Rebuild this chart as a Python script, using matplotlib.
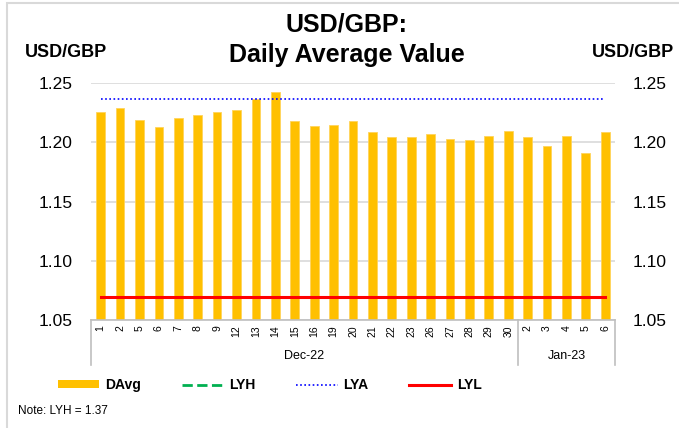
import matplotlib.pyplot as plt
import matplotlib.transforms as mtransforms
from matplotlib.lines import Line2D
from matplotlib.patches import Patch, Rectangle
import numpy as np

# Data
days = ["1", "2", "5", "6", "7", "8", "9", "12", "13", "14", "15", "16", "19", "20",
        "21", "22", "23", "26", "27", "28", "29", "30",
        "2", "3", "4", "5", "6"]
months = ["Dec-22", "Jan-23"]
month_counts = [22, 5]
davg = [1.2253, 1.2290, 1.2188, 1.2127, 1.2203, 1.2231, 1.2258, 1.2273, 1.2363, 1.2422,
        1.2177, 1.2138, 1.2144, 1.2182, 1.2084, 1.2045, 1.2047, 1.2068, 1.2028, 1.2019,
        1.2053, 1.2095, 1.2045, 1.1966, 1.2053, 1.1912, 1.2090]
lyh = 1.37
lya = 1.2363
lyl = 1.0693
yticks = [1.05, 1.10, 1.15, 1.20, 1.25]

plt.rcParams["font.family"] = ["Liberation Sans", "DejaVu Sans"]

fig = plt.figure(figsize=(6.79, 4.28), dpi=100)
ax = fig.add_axes([0.134, 0.2523, 0.7717, 0.5537])

x = np.arange(len(days))
n = len(days)

ax.bar(x, davg, width=0.45, color="#FFC000", edgecolor="#FFD45A", linewidth=0.6, zorder=2)
ax.plot(x, [lyh] * n, color="#00B050", ls="--", lw=2, zorder=3)
ax.plot(x, [lya] * n, color="#0000FF", ls=(0, (1, 1.5)), lw=1.2, zorder=3)
ax.plot(x, [lyl] * n, color="#FF0000", lw=2.2, zorder=3)

ax.set_xlim(-0.5, n - 0.5)
ax.set_ylim(1.05, 1.25)
ax.set_yticks(yticks)
ax.set_yticklabels([f"{v:.2f}" for v in yticks], fontsize=12.5)
ax.yaxis.grid(True, color="#D9D9D9", lw=1.2, zorder=0)
ax.set_axisbelow(True)
ax.tick_params(axis="y", length=0, pad=13)

ax.set_xticks(x)
ax.set_xticklabels(days, rotation=90, fontsize=7.5)
ax.tick_params(axis="x", length=0, pad=4)

for s in ["top", "left", "right"]:
    ax.spines[s].set_visible(False)
ax.spines["bottom"].set_color("#BFBFBF")
ax.spines["bottom"].set_linewidth(1.2)

# right axis
ax2 = ax.twinx()
ax2.set_ylim(1.05, 1.25)
ax2.set_yticks(yticks)
ax2.set_yticklabels([f"{v:.2f}" for v in yticks], fontsize=12.5)
ax2.tick_params(axis="y", length=0, pad=13)
for s in ["top", "left", "right", "bottom"]:
    ax2.spines[s].set_visible(False)

# month groups
trans = mtransforms.blended_transform_factory(ax.transData, ax.transAxes)
edges = np.concatenate([[0], np.cumsum(month_counts)]) - 0.5
for e in edges:
    ax.plot([e, e], [0, -0.19], transform=trans, color="#BFBFBF", lw=1.2, clip_on=False)
for i, m in enumerate(months):
    ax.text((edges[i] + edges[i + 1]) / 2, -0.152, m, transform=trans,
            ha="center", va="center", fontsize=9)

# titles
fig.text(0.511, 0.907, "USD/GBP:\nDaily Average Value", ha="center", va="center",
         fontsize=18, fontweight="bold", linespacing=1.3)
fig.text(0.037, 0.878, "USD/GBP", ha="left", va="center", fontsize=13, fontweight="bold")
fig.text(0.872, 0.878, "USD/GBP", ha="left", va="center", fontsize=13, fontweight="bold")

# legend
handles = [
    Patch(facecolor="#FFC000", edgecolor="none"),
    Line2D([], [], color="#00B050", ls="--", lw=2),
    Line2D([], [], color="#0000FF", ls=(0, (1, 1.5)), lw=1.2),
    Line2D([], [], color="#FF0000", lw=2.2),
]
leg = fig.legend(handles, ["DAvg", "LYH", "LYA", "LYL"], loc="center", ncol=4,
                 bbox_to_anchor=(0.397, 0.1), frameon=False, handlelength=3.0,
                 handleheight=0.5, columnspacing=2.95, handletextpad=0.4,
                 prop={"weight": "bold", "size": 10})

fig.text(0.027, 0.04, "Note: LYH = 1.37", ha="left", va="center", fontsize=8.5)

# border
fig.patches.append(Rectangle((0.0103, -0.1), 1.2, 1.093, transform=fig.transFigure,
                             fill=False, edgecolor="#D9D9D9", lw=1.5))

plt.savefig("out.png", dpi=100)
